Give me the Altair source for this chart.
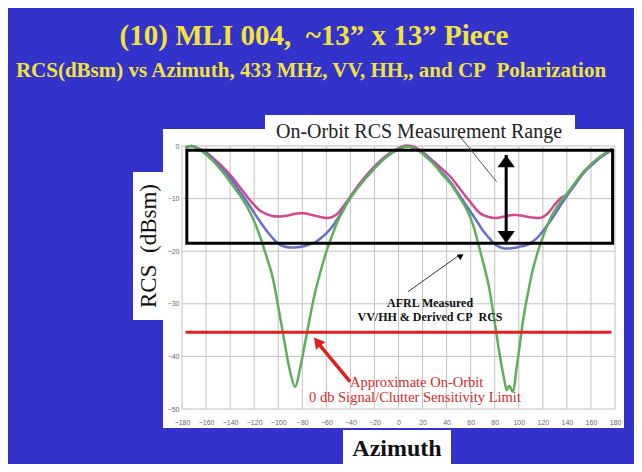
import altair as alt
import pandas as pd

# ---------------- data ----------------
azimuth = [-177, -172, -166, -160, -154, -147, -140, -133, -126, -120, -115, -110, -105, -100,
           -95, -90, -86, -82, -78, -74, -70, -65, -60, -55, -50, -46, -42, -36, -29, -22, -15,
           -8, 0, 6, 12, 18, 24, 30, 36, 43, 50, 57, 62, 66, 70, 75, 80, 84, 88, 90, 92, 95, 98,
           101, 104, 108, 112, 116, 120, 125, 130, 135, 140, 147, 154, 161, 168, 173, 178]

rcs_cp = [-0.3, 0.0, -0.5, -1.2, -2.3, -3.8, -5.5, -7.5, -9.6, -11.2, -12.3, -12.9, -13.3, -13.4,
          -13.3, -13.1, -12.9, -12.8, -12.8, -13.0, -13.2, -13.5, -13.7, -13.5, -12.7, -11.5, -10.3,
          -8.3, -6.2, -4.4, -2.8, -1.5, -0.4, 0.1, -0.1, -0.8, -1.9, -3.1, -4.3, -5.8, -7.8, -9.9,
          -11.3, -12.4, -13.1, -13.5, -13.7, -13.6, -13.4, -13.3, -13.2, -13.1, -13.1, -13.2, -13.3,
          -13.5, -13.6, -13.7, -13.5, -12.6, -11.1, -9.9, -9.2, -7.0, -4.9, -3.3, -2.0, -1.2, -0.5]

rcs_hh = [-0.3, 0.0, -0.6, -1.4, -2.6, -4.3, -6.1, -8.3, -10.6, -12.7, -14.4, -16.0, -17.4, -18.6,
          -19.1, -19.3, -19.3, -19.2, -19.0, -18.7, -18.4, -17.6, -16.6, -15.3, -13.6, -12.1, -10.5,
          -8.5, -6.5, -4.7, -3.0, -1.7, -0.6, -0.1, -0.3, -1.0, -2.1, -3.4, -5.0, -6.8, -9.1, -11.5,
          -13.2, -14.6, -16.0, -17.4, -18.7, -19.2, -19.5, -19.5, -19.5, -19.4, -19.3, -19.1, -19.0,
          -18.7, -18.1, -17.3, -16.2, -14.7, -13.0, -11.2, -9.5, -7.3, -5.1, -3.6, -2.2, -1.4, -0.7]

rcs_vv = [-0.3, 0.0, -0.6, -1.6, -2.9, -4.7, -6.8, -9.0, -11.5, -14.3, -17.3, -20.8, -24.6, -30.5,
          -37.0, -43.0, -45.8, -42.5, -37.8, -33.0, -28.5, -24.0, -20.1, -16.9, -14.0, -12.3, -10.6,
          -8.6, -6.6, -4.8, -3.1, -1.7, -0.6, -0.1, -0.3, -1.1, -2.3, -3.6, -5.3, -7.1, -9.5, -12.2,
          -15.0, -18.3, -21.8, -26.5, -33.5, -39.5, -44.5, -46.4, -45.6, -46.7, -42.5, -37.5, -32.5,
          -27.5, -23.2, -20.0, -17.3, -14.4, -12.2, -10.5, -9.1, -7.0, -4.9, -3.3, -2.0, -1.2, -0.6]

series_names = ["CP", "HH", "VV"]
series_colors = ["#d8458f", "#6670c8", "#5fae5a"]

x_ticks = list(range(-180, 181, 20))
y_ticks = [0, -10, -20, -30, -40, -50]

range_box_az = [-176, 178]
range_box_db = [-0.8, -18.5]
range_arrow_az = 89.5
range_arrow_db = [-1.7, -18.5]
range_head_db = [-2.9, -17.3]

limit_db = -35.4
limit_az = [-177, 177]

afrl_arrow = [7.9, -27.7, 51.5, -20.6]       # az, dB -> az2, dB2
afrl_head = [52.0, -20.9]
range_pointer = [51.1, 1.8, 81.6, -6.8]
red_arrow = [-40.3, -44.8, -66.0, -37.7]
red_head = [-67.5, -37.2]

afrl_text = ["AFRL Measured", "VV/HH & Derived CP\u00a0 RCS"]
afrl_text_az = [26.2, 26.2]
afrl_text_db = [-29.8, -32.5]

limit_text = ["Approximate On-Orbit", "0 db Signal/Clutter Sensitivity Limit"]
limit_text_az = [15.1, 13.7]
limit_text_db = [-45.1, -48.0]

title_text = "(10) MLI 004,\u00a0 ~13\u201d x 13\u201d Piece"
subtitle_text = "RCS(dBsm) vs Azimuth, 433 MHz, VV, HH,, and CP\u00a0 Polarization"
range_label = "On-Orbit RCS Measurement Range"
y_title = "RCS\u00a0 (dBsm)"
x_title = "Azimuth"

# ---------------- chart ----------------
W, H = 433, 263
SERIF = "Liberation Serif"

xs = alt.Scale(domain=[-180, 180], nice=False, zero=False)
ys = alt.Scale(domain=[-50, 0], nice=False, zero=False)
ax_x = alt.Axis(values=x_ticks, title=None, grid=False, domain=False, ticks=False,
                labelFontSize=7, labelColor="#666666", labelPadding=9, labelFont="Liberation Sans",
                labelOverlap=False, labelFlush=False, zindex=1)
ax_y = alt.Axis(values=y_ticks, title=None, grid=False, domain=False, ticks=False,
                labelFontSize=7, labelColor="#666666", labelPadding=3, labelFont="Liberation Sans",
                labelOverlap=False, zindex=1)


def X(f):
    return alt.X(f, type="quantitative", scale=xs, axis=ax_x)


def Y(f):
    return alt.Y(f, type="quantitative", scale=ys, axis=ax_y)


one = pd.DataFrame({"k": [0]})

panel = alt.Chart(one).mark_rect(color="white").encode(
    x=alt.value(-19), x2=alt.value(442), y=alt.value(-17), y2=alt.value(282))
label_box = alt.Chart(one).mark_rect(color="white").encode(
    x=alt.value(83), x2=alt.value(393), y=alt.value(-31), y2=alt.value(0))
ytitle_box = alt.Chart(one).mark_rect(color="white").encode(
    x=alt.value(-49), x2=alt.value(-19), y=alt.value(26), y2=alt.value(174))
xtitle_box = alt.Chart(one).mark_rect(color="white").encode(
    x=alt.value(161), x2=alt.value(269), y=alt.value(284), y2=alt.value(321))

grid_v = alt.Chart(pd.DataFrame({"az": x_ticks})).mark_rule(color="#c0c0c0", strokeWidth=1).encode(
    x=X("az"), y=alt.value(0), y2=alt.value(H))
grid_h = alt.Chart(pd.DataFrame({"db": y_ticks})).mark_rule(color="#c0c0c0", strokeWidth=1).encode(
    y=Y("db"), x=alt.value(0), x2=alt.value(W))

curves_df = pd.concat([
    pd.DataFrame({"az": azimuth, "db": vals, "series": name, "order": i})
    for i, (name, vals) in enumerate(zip(series_names, [rcs_cp, rcs_hh, rcs_vv]))
])
curves = alt.Chart(curves_df).mark_line(strokeWidth=2.5, interpolate="catmull-rom").encode(
    x=X("az"), y=Y("db"),
    color=alt.Color("series:N", scale=alt.Scale(domain=series_names, range=series_colors), legend=None),
    detail="series:N")

box = alt.Chart(pd.DataFrame({"a": [range_box_az[0]], "a2": [range_box_az[1]],
                              "d": [range_box_db[0]], "d2": [range_box_db[1]]})).mark_rect(
    fill="transparent", stroke="black", strokeWidth=3).encode(
    x=X("a"), x2="a2", y=Y("d"), y2="d2")

shaft = alt.Chart(pd.DataFrame({"a": [range_arrow_az], "d": [range_arrow_db[0]],
                                "d2": [range_arrow_db[1]]})).mark_rule(
    color="black", strokeWidth=3).encode(x=X("a"), y=Y("d"), y2="d2")
head_up = alt.Chart(pd.DataFrame({"a": [range_arrow_az], "d": [range_head_db[0]]})).mark_point(
    shape="M0,-0.7L1,0.7L-1,0.7Z", filled=True, color="black", opacity=1, size=300).encode(
    x=X("a"), y=Y("d"))
head_down = alt.Chart(pd.DataFrame({"a": [range_arrow_az], "d": [range_head_db[1]]})).mark_point(
    shape="M0,0.7L1,-0.7L-1,-0.7Z", filled=True, color="black", opacity=1, size=300).encode(
    x=X("a"), y=Y("d"))

afrl_line = alt.Chart(pd.DataFrame({"a": [afrl_arrow[0]], "d": [afrl_arrow[1]],
                                    "a2": [afrl_arrow[2]], "d2": [afrl_arrow[3]]})).mark_rule(
    color="#333333", strokeWidth=1).encode(x=X("a"), y=Y("d"), x2="a2", y2="d2")
afrl_tip = alt.Chart(pd.DataFrame({"a": [afrl_head[0]], "d": [afrl_head[1]]})).mark_point(
    shape="triangle-up", filled=True, color="black", opacity=1, size=45, angle=57).encode(
    x=X("a"), y=Y("d"))

pointer = alt.Chart(pd.DataFrame({"a": [range_pointer[0]], "d": [range_pointer[1]],
                                  "a2": [range_pointer[2]], "d2": [range_pointer[3]]})).mark_rule(
    color="#555555", strokeWidth=1).encode(x=X("a"), y=Y("d"), x2="a2", y2="d2")

limit = alt.Chart(pd.DataFrame({"a": [limit_az[0]], "a2": [limit_az[1]], "d": [limit_db]})).mark_rule(
    color="#e21f1f", strokeWidth=3).encode(x=X("a"), x2="a2", y=Y("d"))

red_line = alt.Chart(pd.DataFrame({"a": [red_arrow[0]], "d": [red_arrow[1]],
                                   "a2": [red_arrow[2]], "d2": [red_arrow[3]]})).mark_rule(
    color="#e21f1f", strokeWidth=3.5).encode(x=X("a"), y=Y("d"), x2="a2", y2="d2")
red_tip = alt.Chart(pd.DataFrame({"a": [red_head[0]], "d": [red_head[1]]})).mark_point(
    shape="triangle-up", filled=True, color="#e21f1f", opacity=1, size=150, angle=321).encode(
    x=X("a"), y=Y("d"))

afrl_lbl = alt.Chart(pd.DataFrame({"t": afrl_text, "a": afrl_text_az, "d": afrl_text_db})).mark_text(
    font=SERIF, fontSize=12, fontWeight="bold", color="#111111", align="center", baseline="middle").encode(
    x=X("a"), y=Y("d"), text="t:N")
limit_lbl = alt.Chart(pd.DataFrame({"t": limit_text, "a": limit_text_az, "d": limit_text_db})).mark_text(
    font=SERIF, fontSize=14.5, color="#d42a2a", align="center", baseline="middle").encode(
    x=X("a"), y=Y("d"), text="t:N")

title = alt.Chart(one).mark_text(font=SERIF, fontSize=29, fontWeight="bold", color="#f2e33a",
                                 align="center", baseline="middle").encode(
    x=alt.value(132), y=alt.value(-110), text=alt.value(title_text))
subtitle = alt.Chart(one).mark_text(font=SERIF, fontSize=21, fontWeight="bold", color="#f2e33a",
                                    align="center", baseline="middle").encode(
    x=alt.value(129), y=alt.value(-75), text=alt.value(subtitle_text))
range_lbl = alt.Chart(one).mark_text(font=SERIF, fontSize=20, color="#222222",
                                     align="center", baseline="middle").encode(
    x=alt.value(237), y=alt.value(-14), text=alt.value(range_label))
ytitle = alt.Chart(one).mark_text(font=SERIF, fontSize=23, color="#111111", angle=270,
                                  align="center", baseline="middle").encode(
    x=alt.value(-33), y=alt.value(100), text=alt.value(y_title))
xtitle = alt.Chart(one).mark_text(font=SERIF, fontSize=24, fontWeight="bold", color="#111111",
                                  align="center", baseline="middle").encode(
    x=alt.value(215), y=alt.value(303), text=alt.value(x_title))

chart = alt.layer(
    panel, label_box, ytitle_box, xtitle_box, grid_v, grid_h, curves, box, shaft, head_up, head_down,
    afrl_line, afrl_tip, pointer, limit, red_line, red_tip, afrl_lbl, limit_lbl,
    title, subtitle, range_lbl, ytitle, xtitle
).properties(
    width=W, height=H,
    padding={"left": 174, "top": 138, "right": 19, "bottom": 55},
    autosize=alt.AutoSizeParams(type="none"),
    background="#3333cc",
).configure_view(stroke=None)

chart.save("out.html", embed_options={"renderer": "svg", "actions": False})
